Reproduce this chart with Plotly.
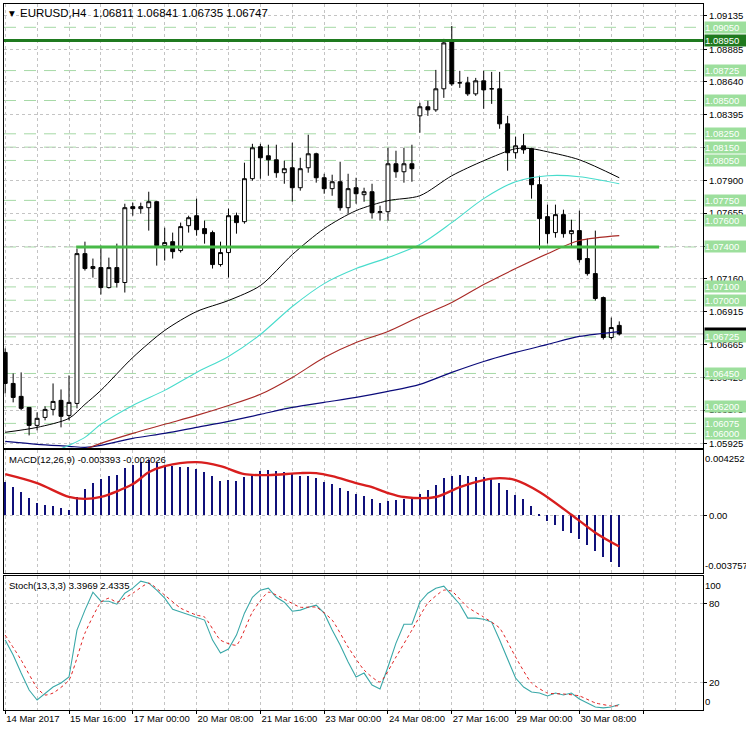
import plotly.graph_objects as go

# ---------------- data ----------------
bar_idx = list(range(78))
opens = [1.06608,1.06375,1.06278,1.06195,1.06060,1.06120,1.06180,1.06248,1.06135,1.06225,
         1.07350,1.07238,1.07245,1.07095,1.07245,1.07133,1.07703,1.07688,1.07695,1.07740,
         1.07410,1.07440,1.07373,1.07560,1.07635,1.07538,1.07508,1.07268,1.07358,1.07635,
         1.07590,1.07913,1.08153,1.08085,1.08055,1.07958,1.07995,1.07845,1.07995,1.08100,
         1.07920,1.07838,1.07890,1.07695,1.07845,1.07793,1.07815,1.07658,1.07665,1.08025,
         1.07965,1.08025,1.08385,1.08453,1.08430,1.08588,1.08940,1.08633,1.08633,1.08550,
         1.08648,1.08588,1.08588,1.08325,1.08108,1.08160,1.08138,1.07868,1.07628,1.07508,
         1.07643,1.07500,1.07523,1.07313,1.07200,1.07020,1.06720,1.06811]
highs = [1.06638,1.06450,1.06458,1.06195,1.06158,1.06203,1.06375,1.06330,1.06435,1.07388,
         1.07440,1.07313,1.07410,1.07320,1.07425,1.07725,1.07733,1.07733,1.07815,1.07748,
         1.07545,1.07508,1.07583,1.07635,1.07763,1.07598,1.07523,1.07440,1.07688,1.07658,
         1.08033,1.08175,1.08175,1.08168,1.08168,1.08048,1.08183,1.08070,1.08243,1.08108,
         1.07950,1.07943,1.08040,1.07950,1.07920,1.07845,1.07875,1.07710,1.08145,1.08123,
         1.08145,1.08168,1.08483,1.08498,1.08730,1.08963,1.09060,1.08723,1.08678,1.08670,
         1.08723,1.08715,1.08715,1.08385,1.08228,1.08250,1.08145,1.07935,1.07718,1.07718,
         1.07680,1.07605,1.07673,1.07463,1.07523,1.07028,1.06870,1.06841]
lows = [1.06300,1.06233,1.06173,1.05985,1.06023,1.06098,1.06135,1.06045,1.06098,1.06188,
        1.07223,1.07170,1.07043,1.07088,1.07095,1.07058,1.07635,1.07650,1.07523,1.07260,
        1.07298,1.07313,1.07358,1.07508,1.07485,1.07425,1.07238,1.07253,1.07170,1.07500,
        1.07575,1.07898,1.07913,1.07935,1.07920,1.07875,1.07740,1.07823,1.07958,1.07883,
        1.07800,1.07785,1.07673,1.07650,1.07725,1.07740,1.07613,1.07598,1.07598,1.07920,
        1.07883,1.07890,1.08258,1.08385,1.08415,1.08520,1.08610,1.08595,1.08535,1.08535,
        1.08438,1.08475,1.08288,1.07973,1.08063,1.08100,1.07763,1.07380,1.07425,1.07470,
        1.07470,1.07403,1.07283,1.07185,1.06998,1.06705,1.06705,1.06735]
closes = [1.06375,1.06270,1.06188,1.06060,1.06113,1.06180,1.06240,1.06128,1.06233,1.07350,
          1.07238,1.07253,1.07095,1.07245,1.07133,1.07695,1.07688,1.07703,1.07740,1.07410,
          1.07433,1.07365,1.07553,1.07620,1.07530,1.07500,1.07268,1.07358,1.07635,1.07583,
          1.07913,1.08145,1.08070,1.08055,1.07958,1.07988,1.07845,1.07988,1.08100,1.07920,
          1.07838,1.07890,1.07695,1.07838,1.07800,1.07815,1.07658,1.07665,1.08025,1.07965,
          1.08025,1.07988,1.08453,1.08430,1.08588,1.08933,1.08625,1.08633,1.08550,1.08648,
          1.08580,1.08588,1.08325,1.08108,1.08160,1.08130,1.07868,1.07613,1.07500,1.07643,
          1.07500,1.07523,1.07305,1.07200,1.07013,1.06720,1.06795,1.06747]

ma_black_idx = [0,4,8,10,12,16,20,24,28,32,36,40,44,48,52,56,60,64,66,68,72,77]
ma_black = [1.06008,1.06045,1.06113,1.06218,1.06323,1.06570,1.06773,1.06915,1.06998,1.07110,
            1.07343,1.07538,1.07673,1.07748,1.07785,1.07935,1.08048,1.08138,1.08138,1.08115,
            1.08055,1.07920]
ma_turq_idx = [6,8,10,12,16,20,24,28,32,36,40,44,48,52,56,60,64,68,72,77]
ma_turq = [1.05858,1.05910,1.05970,1.06068,1.06210,1.06323,1.06458,1.06578,1.06743,1.06953,
           1.07125,1.07238,1.07320,1.07418,1.07583,1.07763,1.07890,1.07935,1.07928,1.07875]
ma_red_idx = [9,12,16,20,24,28,32,36,40,44,48,52,56,60,64,68,72,77]
ma_red = [1.05858,1.05925,1.06000,1.06068,1.06135,1.06210,1.06293,1.06420,1.06570,1.06683,
          1.06765,1.06878,1.06983,1.07118,1.07238,1.07350,1.07448,1.07485]
ma_navy_idx = [0,4,8,10,12,16,20,24,28,32,36,40,44,48,52,56,60,64,68,72,77]
ma_navy = [1.05940,1.05918,1.05903,1.05895,1.05910,1.05963,1.06000,1.06045,1.06090,1.06143,
           1.06195,1.06233,1.06270,1.06315,1.06368,1.06458,1.06540,1.06608,1.06668,1.06728,
           1.06765]

# MACD
macd_hist = [0.00222,0.00189,0.00157,0.00118,0.00085,0.00072,0.00059,0.00052,0.00039,0.00124,
             0.00176,0.00215,0.00242,0.00261,0.00268,0.00313,0.00333,0.00353,0.00366,0.00346,
             0.00333,0.00327,0.00320,0.00320,0.00307,0.00287,0.00261,0.00229,0.00235,0.00229,
             0.00255,0.00274,0.00294,0.00300,0.00294,0.00287,0.00281,0.00261,0.00261,0.00248,
             0.00222,0.00209,0.00183,0.00163,0.00144,0.00131,0.00111,0.00085,0.00098,0.00104,
             0.00111,0.00111,0.00144,0.00170,0.00202,0.00248,0.00261,0.00268,0.00261,0.00255,
             0.00255,0.00248,0.00215,0.00170,0.00137,0.00111,0.00065,0.00007,-0.00039,-0.00065,
             -0.00104,-0.00118,-0.00157,-0.00196,-0.00235,-0.00274,-0.00307,-0.003393]
macd_sig_idx = [0,4,8,10,12,16,18,20,24,27,30,33,37,39,41,44,46,48,50,54,57,60,62,64,67,71,74,77]
macd_sig = [0.00274,0.00215,0.00124,0.00111,0.00124,0.00209,0.00287,0.00327,0.00353,0.00327,
            0.00274,0.00268,0.00281,0.00281,0.00261,0.00215,0.00189,0.00150,0.00124,0.00124,
            0.00189,0.00235,0.00248,0.00235,0.00157,0.00007,-0.00111,-0.002026]

# Stochastic
stoch_main = [52.4,41.0,27.3,14.4,6.8,12.1,16.7,19.7,24.3,60.0,
              75.2,88.8,82.0,82.0,79.7,88.1,91.9,97.2,95.7,90.4,
              84.3,75.9,73.7,72.1,69.9,67.6,52.4,42.5,45.6,56.2,
              72.9,85.0,90.4,91.9,85.0,81.2,74.4,75.2,77.4,79.0,
              72.9,60.0,48.6,35.7,24.3,27.3,18.2,15.2,31.9,50.1,
              64.5,64.5,81.2,88.1,91.9,93.4,86.6,79.7,69.1,69.1,
              68.3,66.1,52.4,37.2,23.5,16.7,12.9,12.1,9.9,12.1,
              10.6,12.1,7.6,4.6,1.5,0.8,1.5,3.3969]
stoch_sig_idx = [0,2,4,5,6,8,10,12,13,14,16,18,20,22,24,25,27,29,31,33,35,37,39,41,43,45,
                 47,49,51,53,55,56,58,60,62,64,66,68,70,72,74,76,77]
stoch_sig = [56.2,37.2,15.9,10.6,12.1,22.0,57.7,81.2,84.3,81.2,88.1,95.7,86.6,76.7,71.4,69.9,
             52.4,48.6,73.7,88.8,83.5,77.4,77.4,67.6,47.1,29.6,
             20.5,39.5,60.0,80.5,90.4,89.6,77.4,69.9,61.5,39.5,19.7,12.1,11.4,9.9,4.6,2.3,2.4335]

# axis labels
time_tick_idx = [0,8,16,24,32,40,48,56,64,72,80]
time_tick_text = ["14 Mar 2017","15 Mar 16:00","17 Mar 00:00","20 Mar 08:00","21 Mar 16:00",
                  "23 Mar 00:00","24 Mar 08:00","27 Mar 16:00","29 Mar 00:00","30 Mar 08:00",""]
grid_minor_idx = [4,12,20,28,36,44,52,60,68,76,84]
price_ticks = [1.09135,1.08885,1.08640,1.08395,1.08150,1.07900,1.07655,1.07405,1.07160,
               1.06915,1.06665,1.06420,1.06175,1.05925]

# horizontal levels
levels_light = [1.09050,1.08725,1.08500,1.08250,1.08150,1.08050,1.07750,1.07600,1.07400,
                1.07100,1.07000,1.06725,1.06450,1.06200,1.06075,1.06000]
level_dark = 1.08950
level_bright = 1.07400
level_bright_span = [8.9, 82.0]
bid_price = 1.06747

title_symbol = "▼"
title_text = "EURUSD,H4  1.06811 1.06841 1.06735 1.06747"
macd_title = "MACD(12,26,9) -0.003393 -0.002026"
stoch_title = "Stoch(13,3,3) 3.3969 2.4335"
macd_max, macd_min = 0.004252, -0.003757

# ---------------- figure ----------------
FONT = "Liberation Sans"
FS = 9.5
GRID = "#c4c4c4"
LVL_BOX = "#9ddf9d"
LVL_LINE = "#a6d9a6"

fig = go.Figure()

fig.add_trace(go.Candlestick(
    x=bar_idx, open=opens, high=highs, low=lows, close=closes,
    increasing=dict(line=dict(color="black", width=1), fillcolor="white"),
    decreasing=dict(line=dict(color="black", width=1), fillcolor="black"),
    whiskerwidth=0, xaxis="x", yaxis="y", showlegend=False, hoverinfo="skip"))

for xs, ys, col, w in [(ma_navy_idx, ma_navy, "#0b0b7a", 1.2),
                       (ma_red_idx, ma_red, "#a82a26", 1.1),
                       (ma_turq_idx, ma_turq, "#48dccc", 1.1),
                       (ma_black_idx, ma_black, "#000000", 1.0)]:
    fig.add_trace(go.Scatter(x=xs, y=ys, mode="lines",
                             line=dict(color=col, width=w, shape="spline", smoothing=0.8),
                             xaxis="x", yaxis="y", showlegend=False, hoverinfo="skip"))

fig.add_trace(go.Bar(x=bar_idx, y=macd_hist, width=0.17,
                     marker=dict(color="#10107a", line=dict(width=0)),
                     xaxis="x2", yaxis="y2", showlegend=False, hoverinfo="skip"))
fig.add_trace(go.Scatter(x=macd_sig_idx, y=macd_sig, mode="lines",
                         line=dict(color="#d81e1e", width=2.4, shape="spline", smoothing=0.9),
                         xaxis="x2", yaxis="y2", showlegend=False, hoverinfo="skip"))

fig.add_trace(go.Scatter(x=bar_idx, y=stoch_main, mode="lines",
                         line=dict(color="#3aa8a8", width=1.1),
                         xaxis="x3", yaxis="y3", showlegend=False, hoverinfo="skip"))
fig.add_trace(go.Scatter(x=stoch_sig_idx, y=stoch_sig, mode="lines",
                         line=dict(color="#e02020", width=1, dash="3px,3px", shape="spline", smoothing=0.5),
                         xaxis="x3", yaxis="y3", showlegend=False, hoverinfo="skip"))

# shapes: levels
shapes = []
for lv in levels_light:
    shapes.append(dict(type="line", xref="paper", yref="y", x0=0, x1=1, y0=lv, y1=lv,
                       line=dict(color=LVL_LINE, width=1, dash="12px,8px"), layer="below"))
shapes.append(dict(type="line", xref="paper", yref="y", x0=0, x1=1, y0=bid_price, y1=bid_price,
                   line=dict(color="#b8b8b8", width=1), layer="below"))
shapes.append(dict(type="line", xref="paper", yref="y", x0=0, x1=1, y0=level_dark, y1=level_dark,
                   line=dict(color="#1f7a1f", width=3)))
shapes.append(dict(type="line", xref="x", yref="y", x0=level_bright_span[0], x1=level_bright_span[1],
                   y0=level_bright, y1=level_bright, line=dict(color="#47b947", width=3)))

annotations = []
# bid price box (partly hidden)
annotations.append(dict(xref="paper", x=1, xanchor="left", xshift=1, yref="y", y=bid_price,
                        text="1.06747", showarrow=False, bgcolor="black", width=41, height=11,
                        align="left", borderpad=0, font=dict(family=FONT, size=FS, color="white")))
for lv in levels_light:
    annotations.append(dict(xref="paper", x=1, xanchor="left", xshift=1, yref="y", y=lv,
                            text=f"{lv:.5f}", showarrow=False, bgcolor=LVL_BOX, width=41, height=11,
                            align="left", borderpad=0, font=dict(family=FONT, size=FS, color="white")))
annotations.append(dict(xref="paper", x=1, xanchor="left", xshift=1, yref="y", y=level_dark,
                        text=f"{level_dark:.5f}", showarrow=False, bgcolor="#1f7a1f", width=41, height=11,
                        align="left", borderpad=0, font=dict(family=FONT, size=FS, color="white")))
# panel titles
annotations.append(dict(xref="paper", x=0, xanchor="left", xshift=3, yref="y domain", y=1, yanchor="top",
                        yshift=-3, text=title_symbol, showarrow=False,
                        font=dict(family="DejaVu Sans", size=7.5, color="black")))
annotations.append(dict(xref="paper", x=0, xanchor="left", xshift=14, yref="y domain", y=1, yanchor="top",
                        yshift=-1, text=title_text, showarrow=False,
                        font=dict(family=FONT, size=11.5, color="black")))
annotations.append(dict(xref="paper", x=0, xanchor="left", xshift=3, yref="y2 domain", y=1, yanchor="top",
                        yshift=-2, text=macd_title, showarrow=False,
                        font=dict(family=FONT, size=FS, color="black")))
annotations.append(dict(xref="paper", x=0, xanchor="left", xshift=3, yref="y3 domain", y=1, yanchor="top",
                        yshift=-2, text=stoch_title, showarrow=False,
                        font=dict(family=FONT, size=FS, color="black")))
# extreme labels on indicator axes
for txt, yr, yv, anc in [(f"{macd_max:.6f}", "y2", macd_max, "top"),
                         (f"{macd_min:.6f}", "y2", macd_min, "bottom"),
                         ("100", "y3", 100, "top"), ("0", "y3", 0, "bottom")]:
    annotations.append(dict(xref="paper", x=1, xanchor="left", xshift=0, yref=yr, y=yv, yanchor=anc,
                            text=txt, showarrow=False, font=dict(family=FONT, size=FS, color="black")))

xcommon = dict(range=[-0.15, 87.5], showline=True, mirror=True, linecolor="black", linewidth=1,
               zeroline=False, showgrid=True, gridcolor=GRID, griddash="3px,3px", gridwidth=1,
               tickvals=time_tick_idx, tickangle=0,
               minor=dict(tickvals=grid_minor_idx, showgrid=True, gridcolor=GRID, griddash="3px,3px",
                          ticks=""),
               rangeslider=dict(visible=False), fixedrange=True)

fig.update_layout(
    width=746, height=731, autosize=False,
    margin=dict(l=3, r=42, t=3, b=21),
    paper_bgcolor="white", plot_bgcolor="white",
    font=dict(family=FONT, size=FS, color="black"),
    bargap=0,
    xaxis=dict(**xcommon, domain=[0, 1], anchor="y", showticklabels=False, ticks=""),
    xaxis2=dict(**xcommon, domain=[0, 1], anchor="y2", showticklabels=False, ticks="", matches="x"),
    xaxis3=dict(**xcommon, domain=[0, 1], anchor="y3", ticktext=time_tick_text, ticks="outside",
                ticklen=3, tickcolor="black", ticklabelposition="outside right",
                tickfont=dict(family=FONT, size=FS, color="black"), matches="x"),
    yaxis=dict(domain=[0.3706, 1.0], range=[1.058875, 1.092250], side="right", anchor="x",
               showline=True, mirror=True, linecolor="black", linewidth=1, zeroline=False,
               tickvals=price_ticks, tickformat=".5f", ticks="outside", ticklen=3, tickcolor="black",
               showgrid=True, gridcolor=GRID, griddash="3px,3px",
               tickfont=dict(family=FONT, size=FS, color="black"), fixedrange=True),
    yaxis2=dict(domain=[0.1938, 0.3678], range=[-0.00378, 0.00431], side="right", anchor="x2",
                showline=True, mirror=True, linecolor="black", linewidth=1, zeroline=False,
                tickvals=[0], ticktext=["0.00"], ticks="outside", ticklen=3, tickcolor="black",
                showgrid=True, gridcolor=GRID, griddash="3px,3px",
                tickfont=dict(family=FONT, size=FS, color="black"), fixedrange=True),
    yaxis3=dict(domain=[0.0, 0.1895], range=[-0.8, 101], side="right", anchor="x3",
                showline=True, mirror=True, linecolor="black", linewidth=1, zeroline=False,
                tickvals=[80, 20], ticks="outside", ticklen=3, tickcolor="black",
                showgrid=True, gridcolor=GRID, griddash="3px,3px",
                tickfont=dict(family=FONT, size=FS, color="black"), fixedrange=True),
    shapes=shapes, annotations=annotations,
)

fig.write_html("out.html", config={"displayModeBar": False},
               post_script="document.body.style.margin='0';document.body.style.overflow='hidden';")
